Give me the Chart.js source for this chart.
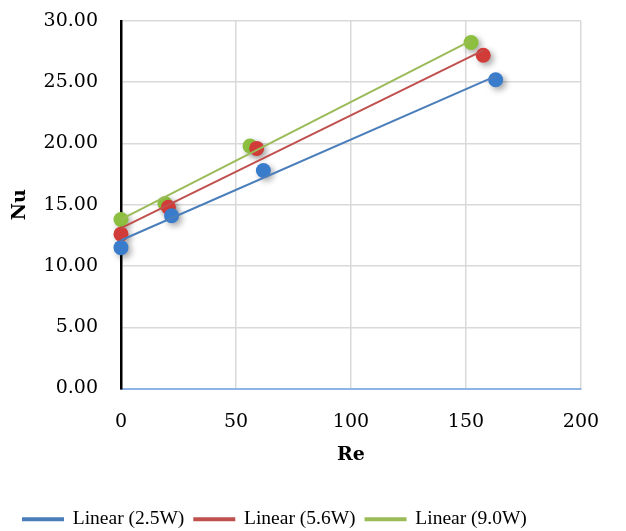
<!DOCTYPE html>
<html>
<head>
<meta charset="utf-8">
<script src="https://cdn.jsdelivr.net/npm/chart.js@4"></script>
<style>
  html, body { margin: 0; padding: 0; background: #fff; }
  #wrap { width: 626px; height: 531px; }
</style>
</head>
<body>
<div id="wrap"><canvas id="grafico" width="626" height="531"></canvas></div>
<script>
// dati
const re25 = [0, 22.0, 61.9, 162.9];
const nu25 = [11.5, 14.1, 17.8, 25.2];
const re56 = [0, 20.6, 59.0, 157.5];
const nu56 = [12.6, 14.8, 19.6, 27.2];
const re90 = [0, 19.1, 56.1, 152.2];
const nu90 = [13.8, 15.1, 19.8, 28.25];

// estremi delle linee di tendenza (x inizio, x fine / y inizio, y fine)
const trendRe25 = [0, 162.9];
const trendNu25 = [12.1, 25.5];
const trendRe56 = [0, 157.5];
const trendNu56 = [13.1, 27.6];
const trendRe90 = [0, 152.2];
const trendNu90 = [13.8, 28.4];

const etichette = ["Linear (2.5W)", "Linear (5.6W)", "Linear (9.0W)"];

function punti(xs, ys) {
  return xs.map((x, i) => ({ x: x, y: ys[i] }));
}

// ombra sotto i marker
const ombra = {
  id: "ombra",
  beforeDatasetDraw(chart, args) {
    const ds = chart.data.datasets[args.index];
    if (ds.type !== "scatter") return;
    const ctx = chart.ctx;
    ctx.save();
    ctx.shadowColor = "rgba(0,0,0,0.35)";
    ctx.shadowBlur = 6;
    ctx.shadowOffsetX = 3;
    ctx.shadowOffsetY = 3;
  },
  afterDatasetDraw(chart, args) {
    const ds = chart.data.datasets[args.index];
    if (ds.type !== "scatter") return;
    chart.ctx.restore();
  }
};

function marker(dati, colore) {
  return {
    type: "scatter",
    label: "",
    data: dati,
    pointRadius: 7.5,
    pointHoverRadius: 7.5,
    pointBackgroundColor: colore,
    pointBorderWidth: 0,
    clip: false,
    order: 2
  };
}

function tendenza(label, dati, colore) {
  return {
    type: "line",
    label: label,
    data: dati,
    borderColor: colore,
    backgroundColor: colore,
    borderWidth: 2,
    pointRadius: 0,
    fill: false,
    clip: false,
    order: 1
  };
}

const ctx = document.getElementById("grafico").getContext("2d");

new Chart(ctx, {
  data: {
    datasets: [
      tendenza(etichette[0], punti(trendRe25, trendNu25), "#4a7ebb"),
      tendenza(etichette[1], punti(trendRe56, trendNu56), "#c0504d"),
      tendenza(etichette[2], punti(trendRe90, trendNu90), "#9bbb59"),
      marker(punti(re25, nu25), "#3a7ccc"),
      marker(punti(re56, nu56), "#d23c38"),
      marker(punti(re90, nu90), "#8cbf3f")
    ]
  },
  options: {
    responsive: false,
    animation: false,
    layout: { padding: { left: 13, right: 45, top: 21, bottom: -8 } },
    plugins: {
      tooltip: { enabled: false },
      legend: {
        position: "bottom",
        align: "start",
        labels: {
          filter: (item) => item.text !== "",
          boxWidth: 40,
          boxHeight: 2,
          padding: 10,
          color: "#000",
          font: { family: "Liberation Serif", size: 19.5 }
        }
      }
    },
    scales: {
      x: {
        type: "linear",
        min: 0,
        max: 200,
        ticks: {
          stepSize: 50,
          color: "#000",
          padding: 22,
          font: { family: "DejaVu Serif", size: 19 }
        },
        grid: { color: "#d9d9d9", lineWidth: 1.5, drawTicks: false },
        border: { color: "#8db4e2", width: 2 },
        title: {
          display: true,
          text: "Re",
          color: "#000",
          padding: { top: 8, bottom: 33 },
          font: { family: "DejaVu Serif", size: 19, weight: "bold" }
        },
        afterFit: (s) => {
          s.height = 111;
          s.paddingLeft = 0;
          s.paddingRight = 0;
        }
      },
      y: {
        min: 0,
        max: 30,
        ticks: {
          stepSize: 5,
          color: "#000",
          padding: 23,
          font: { family: "DejaVu Serif", size: 19 },
          callback: (v) => v.toFixed(2)
        },
        grid: { color: "#d9d9d9", lineWidth: 1.5, drawTicks: false },
        border: { color: "#000", width: 2.5 },
        title: {
          display: true,
          text: "Nu",
          color: "#000",
          padding: { top: -4, bottom: 0 },
          font: { family: "DejaVu Serif", size: 19, weight: "bold" }
        },
        afterFit: (s) => {
          s.width = 108;
          s.paddingTop = 0;
          s.paddingBottom = 0;
        }
      }
    }
  },
  plugins: [ombra]
});
</script>
</body>
</html>
